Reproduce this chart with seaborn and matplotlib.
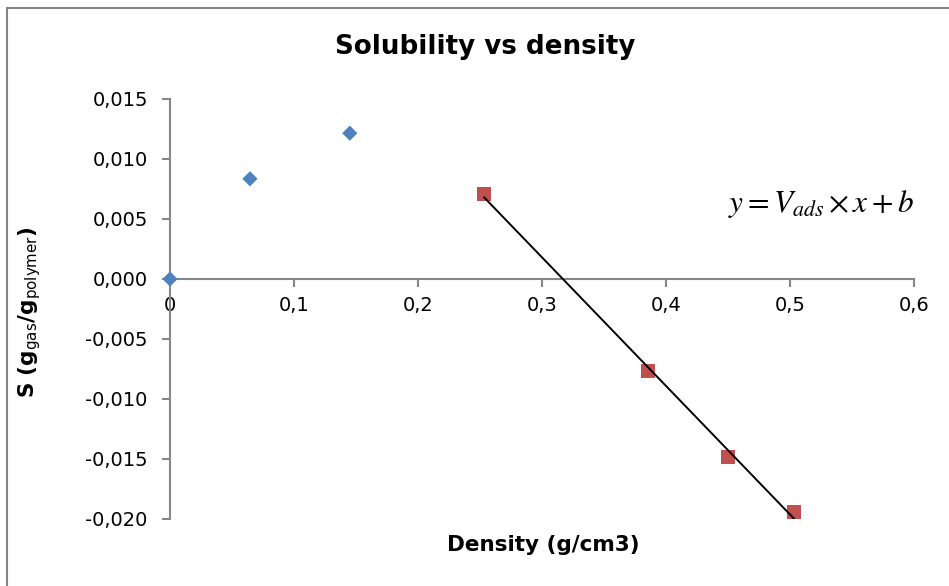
import matplotlib
matplotlib.use("Agg")
import matplotlib.pyplot as plt
from matplotlib.lines import Line2D
from matplotlib.ticker import FuncFormatter
import pandas as pd
import seaborn as sns

# Measured solubility at low density (blue diamonds)
density_low = [0.0, 0.0645, 0.145]
solubility_low = [0.0, 0.00835, 0.01215]

# Measured solubility at high density (red squares, fitted with a line)
density_high = [0.2532, 0.3857, 0.4503, 0.5035]
solubility_high = [0.00707, -0.00768, -0.01482, -0.01943]

x_ticks = [0.0, 0.1, 0.2, 0.3, 0.4, 0.5, 0.6]
y_ticks = [-0.020, -0.015, -0.010, -0.005, 0.000, 0.005, 0.010, 0.015]

sns.set_style("white")
plt.rcParams["font.family"] = ["DejaVu Sans"]
plt.rcParams["text.color"] = "black"

low = pd.DataFrame({"density": density_low, "solubility": solubility_low})
high = pd.DataFrame({"density": density_high, "solubility": solubility_high})

fig = plt.figure(figsize=(9.49, 5.86), dpi=100)
ax = fig.add_axes([170 / 949, 1 - 519 / 586, 744 / 949, 420 / 586])

axis_grey = "#868686"

sns.scatterplot(data=low, x="density", y="solubility", marker="D", s=60,
                color="#4F81BD", edgecolor="none", ax=ax, zorder=4, clip_on=False)
sns.scatterplot(data=high, x="density", y="solubility", marker="s", s=100,
                color="#C0504D", edgecolor="none", ax=ax, zorder=4, clip_on=False)
sns.regplot(data=high, x="density", y="solubility", scatter=False, ci=None,
            truncate=True, color="black", line_kws={"lw": 1.4, "zorder": 5}, ax=ax)

ax.set_xlim(0, 0.6)
ax.set_ylim(-0.020, 0.015)
ax.set_xticks(x_ticks)
ax.set_yticks(y_ticks)


def comma_fmt(decimals):
    def f(v, pos):
        if abs(v) < 1e-12 and decimals == 1:
            return "0"
        s = f"{v:.{decimals}f}".replace(".", ",")
        if s.startswith("-0,000"):
            s = s[1:]
        return s
    return FuncFormatter(f)


ax.xaxis.set_major_formatter(comma_fmt(1))
ax.yaxis.set_major_formatter(comma_fmt(3))

for side in ("top", "right"):
    ax.spines[side].set_visible(False)
ax.spines["bottom"].set_position(("data", 0))
ax.spines["left"].set_position(("data", 0))
for side in ("bottom", "left"):
    ax.spines[side].set_color(axis_grey)
    ax.spines[side].set_linewidth(1.5)

ax.tick_params(axis="both", direction="out", length=6, width=1.5,
               color=axis_grey, labelsize=14, labelcolor="black")
ax.tick_params(axis="x", pad=6, bottom=True)
ax.tick_params(axis="y", pad=10, left=True)

ax.set_xlabel("")
ax.set_ylabel("")
fig.text(543 / 949, 1 - 545 / 586, "Density (g/cm3)", ha="center", va="center",
         fontsize=15.5, fontweight="bold")
fig.text(30 / 949, 1 - 312 / 586,
         r"S (g$_{\mathrm{gas}}$/g$_{\mathrm{polymer}}$)",
         ha="center", va="center", rotation=90, fontsize=15.5, fontweight="bold",
         math_fontfamily="dejavusans")
fig.text(485 / 949, 1 - 47 / 586, "Solubility vs density", ha="center",
         va="center", fontsize=18.8, fontweight="bold")

ax.text(1.0, 0.75, r"$y=V_{ads}\times x+b$", transform=ax.transAxes,
        ha="right", va="center", fontsize=22.5, math_fontfamily="stix")

# chart-area frame along the left and top edges
fig.add_artist(Line2D([7 / 949, 7 / 949], [0, 1 - 8 / 586], color=axis_grey, lw=1.5))
fig.add_artist(Line2D([7 / 949, 1], [1 - 8 / 586, 1 - 8 / 586], color=axis_grey, lw=1.5))

fig.savefig("out.png", dpi=100, facecolor="white")
